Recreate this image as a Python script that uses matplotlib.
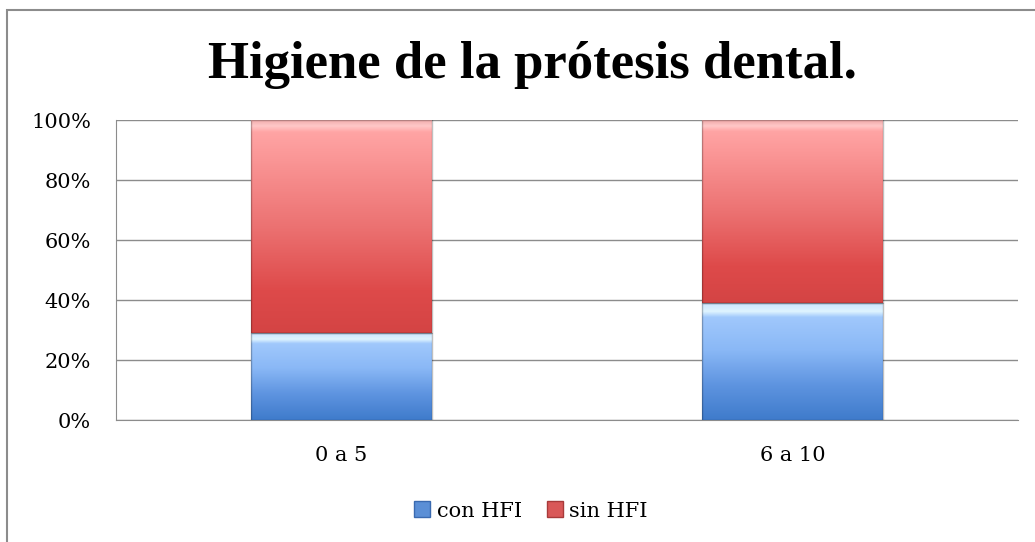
import numpy as np
import matplotlib
matplotlib.use("Agg")
import matplotlib.pyplot as plt
from matplotlib.patches import Rectangle, Patch
from matplotlib.colors import LinearSegmentedColormap
from matplotlib.ticker import PercentFormatter

categories = ["0 a 5", "6 a 10"]
con_hfi = [0.29, 0.39]
sin_hfi = [0.71, 0.61]
series_names = ["con HFI", "sin HFI"]
yticks = [0, 0.2, 0.4, 0.6, 0.8, 1.0]

W, H = 1035, 542
fig = plt.figure(figsize=(W / 100, H / 100), dpi=100)
fig.patch.set_facecolor("white")
ax = fig.add_axes([116 / W, 1 - 420 / H, (1018 - 116) / W, 300 / H])

font = "DejaVu Serif"
x = np.arange(len(categories))
b1 = ax.bar(x, con_hfi, width=0.4, color="none", edgecolor="none", zorder=3)
b2 = ax.bar(x, sin_hfi, width=0.4, bottom=con_hfi, color="none", edgecolor="none", zorder=3)

blue_cmap = LinearSegmentedColormap.from_list(
    "b", [(0.0, "#3f7bcb"), (0.3, "#5e94e0"), (0.6, "#8ab8f6"), (0.88, "#a0c8fc"),
          (0.93, "#dff4ff"), (1.0, "#cbe5ff")])
red_cmap = LinearSegmentedColormap.from_list(
    "r", [(0.0, "#d44444"), (0.2, "#de4a4a"), (0.5, "#ec7272"), (0.85, "#fc9a9a"),
          (0.94, "#ffa4a4"), (0.97, "#ffc8c8"), (1.0, "#f0a8a8")])

grad = np.linspace(0, 1, 256).reshape(-1, 1)
for bars, cmap in ((b1, blue_cmap), (b2, red_cmap)):
    for p in bars:
        x0, y0 = p.get_x(), p.get_y()
        w, h = p.get_width(), p.get_height()
        ax.imshow(grad, cmap=cmap, origin="lower", aspect="auto",
                  extent=(x0, x0 + w, y0, y0 + h), zorder=3, interpolation="bilinear")
        ax.add_patch(Rectangle((x0, y0), w, h, fill=False, edgecolor=(0, 0, 0, 0.25), lw=1.0, zorder=4))

ax.set_xlim(-0.5, 1.5)
ax.set_ylim(0, 1)
ax.set_yticks(yticks)
ax.yaxis.set_major_formatter(PercentFormatter(1.0, decimals=0))
ax.set_xticks(x)
ax.set_xticklabels(categories)
ax.grid(axis="y", color="#8c8c8c", lw=1.0, zorder=0)
ax.set_axisbelow(True)
for s in ("top", "right"):
    ax.spines[s].set_visible(False)
ax.spines["left"].set_color("#8c8c8c")
ax.spines["bottom"].set_color("#8c8c8c")
ax.tick_params(axis="both", length=0, labelsize=15)
ax.tick_params(axis="y", pad=18)
ax.tick_params(axis="x", pad=19)
for lab in ax.get_xticklabels() + ax.get_yticklabels():
    lab.set_fontfamily(font)

fig.text(532 / W, 1 - 78 / H, "Higiene de la prótesis dental.", ha="center", va="baseline",
         fontsize=38, fontweight="bold", fontfamily="Liberation Serif")

handles = [Patch(facecolor="#5b8fd6", edgecolor="#3a6ab0"),
           Patch(facecolor="#d95858", edgecolor="#a83a3a")]
fig.legend(handles, series_names, loc="center", bbox_to_anchor=(531 / W, 1 - 511 / H),
           ncol=2, frameon=False, prop={"family": font, "size": 15},
           handlelength=0.77, handleheight=0.77, handletextpad=0.3, columnspacing=1.2)

fig.add_artist(Rectangle((7 / W, -0.1), 1.2, 0.1 + 1 - 10 / H, transform=fig.transFigure,
                         fill=False, edgecolor="#8c8c8c", lw=1.5))

fig.savefig("out.png", dpi=100)
